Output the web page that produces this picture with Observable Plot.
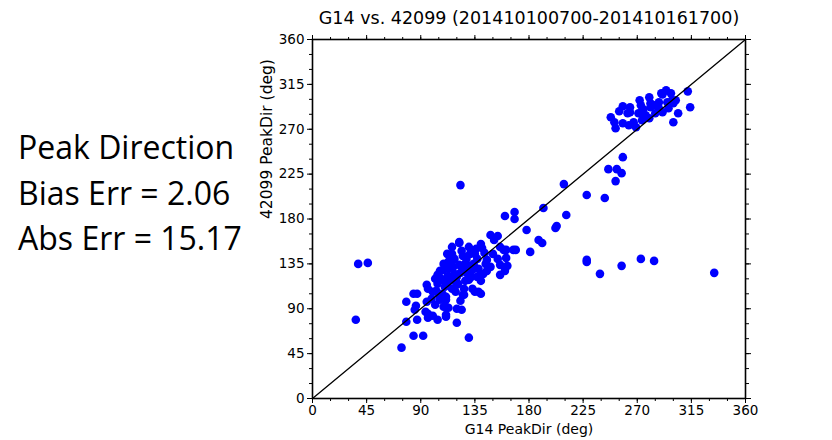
<!DOCTYPE html>
<html>
<head>
<meta charset="utf-8">
<script src="https://cdn.jsdelivr.net/npm/d3@7"></script>
<script src="https://cdn.jsdelivr.net/npm/@observablehq/plot@0.6"></script>
<style>
  html, body { margin: 0; padding: 0; background: #fff; }
  #wrap { position: relative; width: 832px; height: 440px; overflow: hidden; }
  #clip { position: absolute; left: 0; top: 0; width: 832px; height: 440px; }
  #clip svg { max-width: none !important; }
  #stats { position: absolute; left: 18px; top: 124px; font-family: "Open Sans", sans-serif; font-size: 32px; line-height: 45.5px; color: #000; }
</style>
</head>
<body>
<div id="wrap">
  <div id="clip"></div>
  <div id="stats"></div>
</div>
<script>
const title = "G14 vs. 42099 (201410100700-201410161700)";
const xLabel = "G14 PeakDir (deg)";
const yLabel = "42099 PeakDir (deg)";
const statLines = ["Peak Direction", "Bias Err = 2.06", "Abs Err = 15.17"];
const majorTicks = [0, 45, 90, 135, 180, 225, 270, 315, 360];
const minorTicks = [0, 15, 30, 45, 60, 75, 90, 105, 120, 135, 150, 165, 180, 195, 210, 225, 240, 255, 270, 285, 300, 315, 330, 345, 360];
const axisDomain = [0, 360];

const g14Dir = [
  38,46,36,74,84,92,130,78,87,111,
  120,104,96,78,86,85,94,100,95,102,
  111,124,120,123,84,87,95,96,103,108,
  111,105,112,121,125,135,140,156,160,239,
  334,116,96,111,109,113,106,111,126,104,
  109,113,116,122,116,125,131,140,141,148,
  154,151,156,161,162,154,145,148,142,134,
  137,130,126,122,118,113,109,108,113,120,
  126,133,138,119,129,133,138,127,120,115,
  104,100,123,160,168,168,178,192,209,211,
  203,202,188,191,181,167,169,159,161,156,
  122,112,228,243,252,257,246,253,258,228,
  228,257,273,284,312,314,300,304,294,298,
  290,302,300,291,285,280,272,273,264,258,
  255,264,248,251,252,258,263,269,274,277,
  281,284,288,267,280,271,295,296,291,262,
  276,288,299,281,275,118,128,135,124,130,
  136,143,127,132,140,145,117,123,114,106,
  102,110,118,131,137,144,150,105,99
];
const buoyDir = [
  135,136,79,51,63,63,61,77,79,82,
  76,79,81,97,93,89,87,83,97,94,
  92,89,90,98,105,105,114,110,108,105,
  99,123,122,115,104,107,105,124,128,125,
  126,110,85,84,92,91,99,102,104,124,
  135,137,152,156,145,143,145,155,151,164,
  163,159,152,149,133,140,139,132,125,135,
  122,119,129,134,125,130,129,119,117,114,
  110,110,107,107,125,129,130,135,122,122,
  115,107,214,183,187,180,169,191,215,184,
  173,171,159,156,147,149,149,149,141,134,
  157,145,204,201,218,226,230,230,242,139,
  137,133,140,138,308,292,277,286,309,306,
  306,299,296,287,286,302,299,294,292,293,
  288,287,282,277,271,276,274,272,279,284,
  292,294,297,277,281,286,297,291,305,286,
  282,291,299,296,290,140,140,145,148,152,
  150,146,118,122,118,128,132,126,138,128,
  120,112,118,133,140,135,145,104,100
];

const points = g14Dir.map((x, i) => ({x, y: buoyDir[i]}));
const diagonal = axisDomain.map(v => ({x: v, y: v}));
const blank = () => "";

const chart = Plot.plot({
  width: 832,
  height: 440,
  marginLeft: 312,
  marginRight: 87,
  marginTop: 39,
  marginBottom: 42,
  x: {domain: axisDomain, label: null},
  y: {domain: axisDomain, label: null},
  style: {fontFamily: "DejaVu Sans, sans-serif", fontSize: "13px", background: "#fff", color: "#000", overflow: "visible", maxWidth: "none"},
  marks: [
    Plot.dot(points, {x: "x", y: "y", r: 4.3, fill: "#0000ff", stroke: "none"}),
    Plot.line(diagonal, {x: "x", y: "y", stroke: "#000", strokeWidth: 1.3}),
    Plot.frame({stroke: "#000", strokeWidth: 1.6}),
    Plot.axisX(majorTicks, {anchor: "bottom", tickSize: 5, tickPadding: 2, fontSize: 13.5, label: null}),
    Plot.axisX(minorTicks, {anchor: "bottom", tickSize: 3, tickFormat: blank, label: null}),
    Plot.axisX(majorTicks, {anchor: "top", tickSize: 5, tickFormat: blank, label: null}),
    Plot.axisX(minorTicks, {anchor: "top", tickSize: 3, tickFormat: blank, label: null}),
    Plot.axisY(majorTicks, {anchor: "left", tickSize: 5, tickPadding: 3, fontSize: 13.5, label: null}),
    Plot.axisY(minorTicks, {anchor: "left", tickSize: 3, tickFormat: blank, label: null}),
    Plot.axisY(majorTicks, {anchor: "right", tickSize: 5, tickFormat: blank, label: null}),
    Plot.axisY(minorTicks, {anchor: "right", tickSize: 3, tickFormat: blank, label: null}),
    Plot.text([xLabel], {frameAnchor: "bottom", dy: 31, text: d => d, fontSize: 14, lineAnchor: "middle"}),
    Plot.text([yLabel], {frameAnchor: "left", dx: -45, rotate: -90, text: d => d, fontSize: 15.5, lineAnchor: "middle"}),
    Plot.text([title], {frameAnchor: "top", dy: -21, text: d => d, fontSize: 17.5, lineAnchor: "middle"})
  ]
});
chart.style.maxWidth = "none";
document.getElementById("clip").appendChild(chart);

const stats = document.getElementById("stats");
statLines.forEach(t => {
  const d = document.createElement("div");
  d.textContent = t;
  stats.appendChild(d);
});
</script>
</body>
</html>
